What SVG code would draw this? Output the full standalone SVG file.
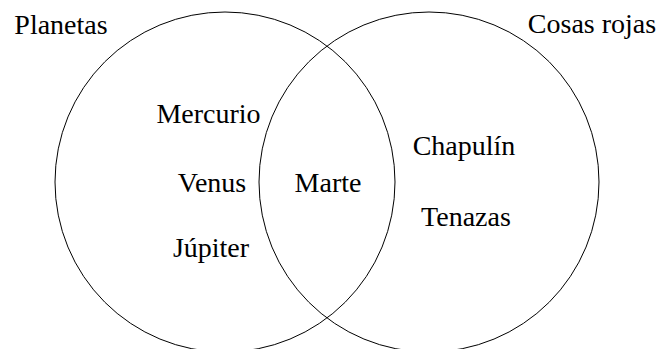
<svg xmlns="http://www.w3.org/2000/svg" width="664" height="349" viewBox="0 0 664 349">
<style>
.set{fill:none;stroke:#000;stroke-width:1}
.lbl{font-size:28px;fill:#000;text-anchor:middle}
</style>
<rect width="664" height="349" fill="#fff"/>
<g font-family="Liberation Serif, serif">
<g id="set-planetas">
<circle class="set" cx="225" cy="182" r="170"/>
<text class="lbl" x="61" y="34" font-family="Liberation Serif">Planetas</text>
</g>
<g id="set-cosas-rojas">
<circle class="set" cx="429" cy="182" r="170"/>
<text class="lbl" x="592" y="33" font-family="Liberation Serif">Cosas rojas</text>
</g>
<g id="item-mercurio"><text class="lbl" x="208.5" y="123" font-family="Liberation Serif">Mercurio</text></g>
<g id="item-venus"><text class="lbl" x="212" y="192" font-family="Liberation Serif">Venus</text></g>
<g id="item-jupiter"><text class="lbl" x="211" y="257" font-family="Liberation Serif">Júpiter</text></g>
<g id="item-marte"><text class="lbl" x="328" y="192" font-family="Liberation Serif">Marte</text></g>
<g id="item-chapulin"><text class="lbl" x="464" y="155" font-family="Liberation Serif">Chapulín</text></g>
<g id="item-tenazas"><text class="lbl" x="466" y="226" font-family="Liberation Serif">Tenazas</text></g>
</g>
<g id="connectors"/>
</svg>
